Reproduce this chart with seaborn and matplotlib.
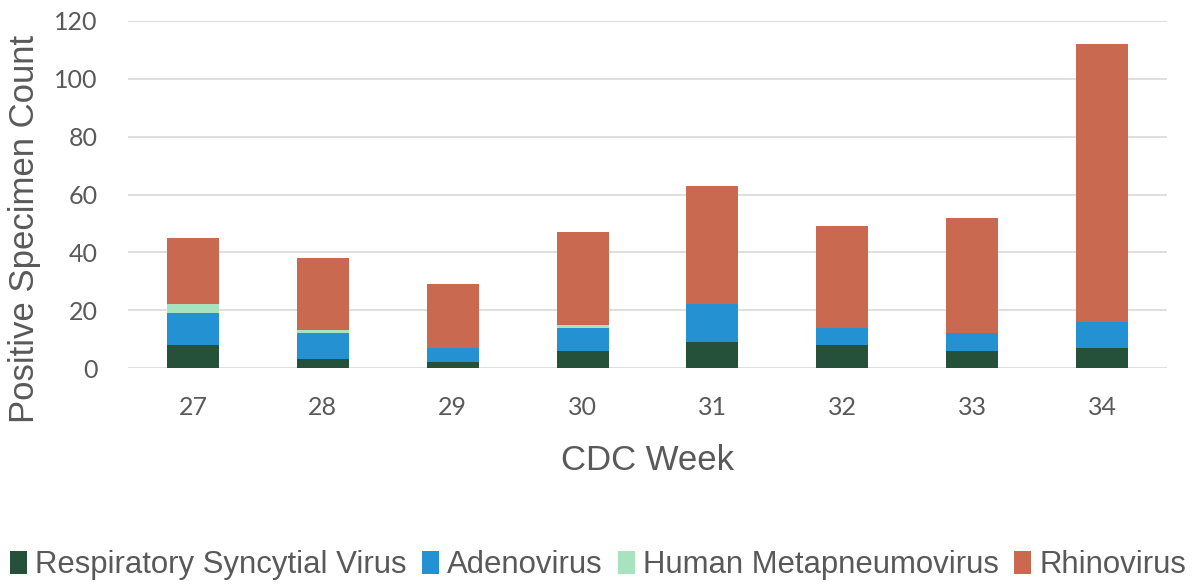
import matplotlib
matplotlib.use("Agg")
import matplotlib.pyplot as plt
import seaborn as sns
import pandas as pd
import numpy as np
from matplotlib.patches import Patch

weeks = ["27", "28", "29", "30", "31", "32", "33", "34"]
rsv = [8, 3, 2, 6, 9, 8, 6, 7]
adeno = [11, 9, 5, 8, 13, 6, 6, 9]
hmpv = [3, 1, 0, 1, 0, 0, 0, 0]
rhino = [23, 25, 22, 32, 41, 35, 40, 96]

series_names = ["Respiratory Syncytial Virus", "Adenovirus", "Human Metapneumovirus", "Rhinovirus"]
series_vals = [rsv, adeno, hmpv, rhino]
colors = ["#25513B", "#2391D2", "#A6E3BE", "#C96A50"]

sns.set_theme(style="white")
plt.rcParams['font.family'] = ['Liberation Sans', 'DejaVu Sans']

fig = plt.figure(figsize=(11.96, 5.86), dpi=100)
ax = fig.add_axes([128/1196, 1-368/586, (1167-128)/1196, (368-21)/586])

bottom = np.zeros(len(weeks))
for name, vals, c in zip(series_names, series_vals, colors):
    df = pd.DataFrame({"week": weeks, "count": vals})
    sns.barplot(data=df, x="week", y="count", color=c, width=0.4, ax=ax,
                bottom=bottom, saturation=1, linewidth=0, label=name)
    bottom = bottom + np.array(vals)

ax.set_ylim(0, 120)
ax.set_xlim(-0.5, 7.5)
ax.set_yticks(range(0, 121, 20))
ax.yaxis.grid(True, color="#D9D9D9", linewidth=1.2)
ax.set_axisbelow(True)
for s in ax.spines.values():
    s.set_visible(False)

tick_font = ['Lato', 'DejaVu Sans']
ax.set_yticklabels([str(v) for v in range(0, 121, 20)], family=tick_font, fontsize=18, color="#595959")
ax.set_xticklabels(weeks, family=tick_font, fontsize=18, color="#595959")
ax.tick_params(axis='y', pad=22, length=0)
ax.tick_params(axis='x', pad=20, length=0)

ax.set_xlabel("CDC Week", fontsize=25, color="#595959", labelpad=18)
ax.set_ylabel("Positive Specimen Count", fontsize=25, color="#595959", labelpad=9, y=0.40)
if ax.get_legend():
    ax.get_legend().remove()

handles = [Patch(facecolor=c, edgecolor='none') for c in colors]
fig.legend(handles, series_names, loc='lower center', bbox_to_anchor=(0.5, -0.038), ncol=4,
           frameon=False, prop={'family': 'Liberation Sans', 'size': 22.4}, labelcolor="#595959",
           handlelength=0.55, handleheight=0.8, handletextpad=0.25, columnspacing=0.5)

fig.savefig("out.png", dpi=100)
